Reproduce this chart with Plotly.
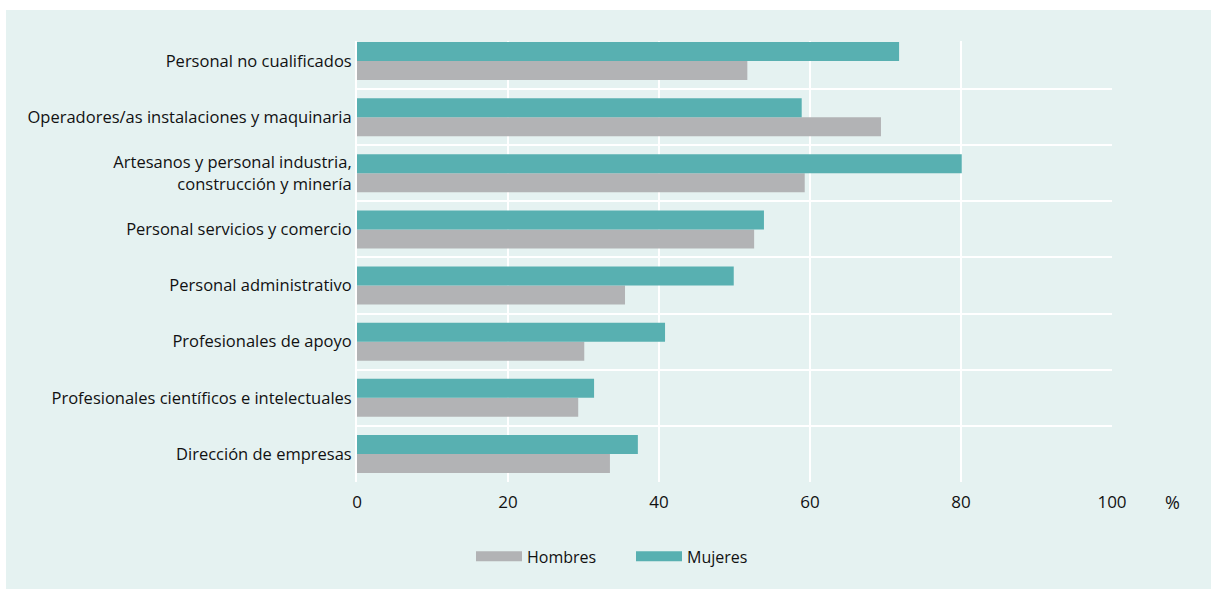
import plotly.graph_objects as go

# Categories listed top to bottom as they appear in the chart
categories = [
    "Personal no cualificados",
    "Operadores/as instalaciones y maquinaria",
    "Artesanos y personal industria,<br>construcción y minería",
    "Personal servicios y comercio",
    "Personal administrativo",
    "Profesionales de apoyo",
    "Profesionales científicos e intelectuales",
    "Dirección de empresas",
]
mujeres = [71.8, 58.9, 80.1, 53.9, 49.9, 40.8, 31.4, 37.2]
hombres = [51.7, 69.4, 59.3, 52.6, 35.5, 30.1, 29.3, 33.5]
x_ticks = [0, 20, 40, 60, 80, 100]
x_grid = [20, 40, 60, 80]

TEAL = "#58b0b1"
GREY = "#b2b3b5"
PANEL = "#e5f2f1"
TEXT = "#111111"
FONT = "Open Sans"

fig = go.Figure()
fig.add_trace(go.Bar(y=categories, x=hombres, orientation="h", name="Hombres",
                     marker=dict(color=GREY, line=dict(width=0)), showlegend=False))
fig.add_trace(go.Bar(y=categories, x=mujeres, orientation="h", name="Mujeres",
                     marker=dict(color=TEAL, line=dict(width=0)), showlegend=False))
# legend swatches
fig.add_trace(go.Scatter(x=[None], y=[None], mode="lines", name="Hombres",
                         line=dict(color=GREY, width=12)))
fig.add_trace(go.Scatter(x=[None], y=[None], mode="lines", name="Mujeres",
                         line=dict(color=TEAL, width=12)))

W, H = 1211, 589
L, R, T, B = 357, 1112, 41, 481.7

def px_to_paper_x(px):
    return (px - L) / (R - L)

def px_to_paper_y(py):
    return (B - py) / (B - T)

fig.add_shape(type="rect", xref="paper", yref="paper",
              x0=px_to_paper_x(6), x1=px_to_paper_x(1211),
              y0=px_to_paper_y(589), y1=px_to_paper_y(10),
              fillcolor=PANEL, line=dict(width=0), layer="below")

fig.add_annotation(text="%", xref="paper", yref="paper",
                   x=px_to_paper_x(1172), y=px_to_paper_y(502),
                   xanchor="center", yanchor="middle", showarrow=False,
                   font=dict(family=FONT, size=18, color=TEXT))

fig.update_layout(
    width=W, height=H,
    margin=dict(l=L, r=W - R, t=T, b=H - B, pad=0),
    paper_bgcolor="white",
    plot_bgcolor=PANEL,
    barmode="group",
    bargap=0.323,
    bargroupgap=0,
    font=dict(family=FONT, size=16.5, color=TEXT),
    legend=dict(orientation="h", x=px_to_paper_x(471), xanchor="left",
                y=px_to_paper_y(556), yanchor="middle",
                bgcolor="rgba(0,0,0,0)", font=dict(family=FONT, size=16, color=TEXT),
                itemwidth=46, entrywidth=99, tracegroupgap=0),
    xaxis=dict(range=[0, 100], tickvals=x_ticks, ticktext=[str(v) for v in x_ticks],
               showgrid=False,
               minor=dict(tickmode="array", tickvals=x_grid, showgrid=True,
                          gridcolor="white", gridwidth=2, ticks=""),
               zeroline=False, showline=False, ticks="",
               tickfont=dict(size=17),
               ticklabelstandoff=8, fixedrange=True),
    yaxis=dict(type="category", categoryorder="array",
               categoryarray=list(reversed(categories)),
               range=[-0.5, 7.357], tickson="boundaries",
               showgrid=True, gridcolor="white", gridwidth=2,
               showline=True, linecolor="white", linewidth=2,
               zeroline=False, ticks="", ticklabelstandoff=0, fixedrange=True),
)

fig.write_html("out.html")
